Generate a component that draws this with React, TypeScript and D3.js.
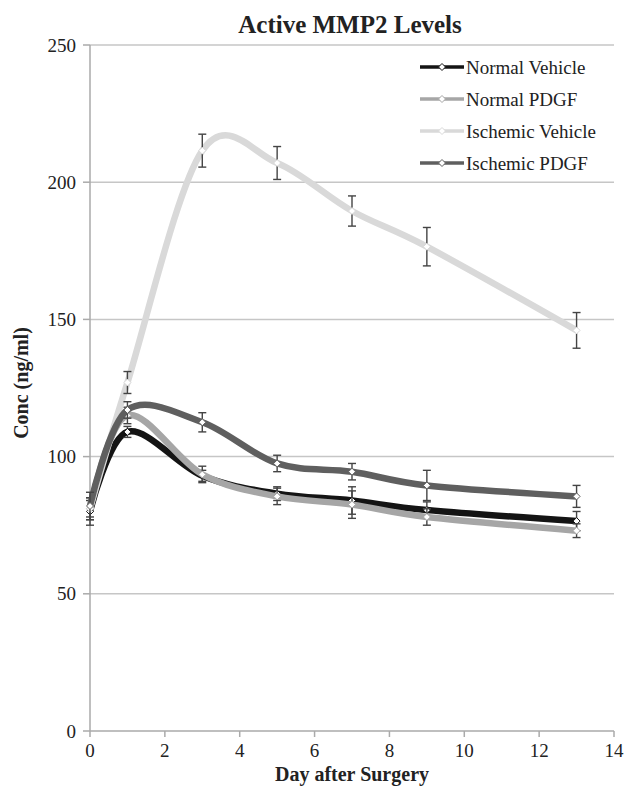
import * as d3 from "d3";

const days = [0, 1, 3, 5, 7, 9, 13];
const seriesNames = ["Normal Vehicle", "Normal PDGF", "Ischemic Vehicle", "Ischemic PDGF"];
const normalVehicle = [80, 109, 93, 86.5, 84, 80.5, 76.5];
const normalVehicleErr = [5, 2, 2, 2.5, 5, 3, 3.5];
const normalPdgf = [81, 115, 93.5, 85.5, 82.5, 78, 73];
const normalPdgfErr = [4, 3, 3, 3, 5, 3, 2.5];
const ischemicVehicle = [81, 127, 211.5, 207, 189.5, 176.5, 146];
const ischemicVehicleErr = [3, 4, 6, 6, 5.5, 7, 6.5];
const ischemicPdgf = [82, 117, 112.5, 97.5, 94.5, 89.5, 85.5];
const ischemicPdgfErr = [5, 3, 3.5, 3, 3, 5.5, 4];
const colors = ["#141414", "#a6a6a6", "#d9d9d9", "#5f5f5f"];
const xTicks = [0, 2, 4, 6, 8, 10, 12, 14];
const yTicks = [0, 50, 100, 150, 200, 250];

const W = 624,
  H = 788;
const m = { top: 45, right: 10, bottom: 57, left: 90 };
const font = "'Liberation Serif', serif";

export default function App() {
  const x = d3.scaleLinear().domain([0, 14]).range([m.left, W - m.right]);
  const y = d3.scaleLinear().domain([0, 250]).range([H - m.bottom, m.top]);
  const values = [normalVehicle, normalPdgf, ischemicVehicle, ischemicPdgf];
  const errs = [normalVehicleErr, normalPdgfErr, ischemicVehicleErr, ischemicPdgfErr];
  const line = d3
    .line<number>()
    .x((_, i) => x(days[i]))
    .y((d) => y(d))
    .curve(d3.curveCatmullRom.alpha(0));
  const diamond = (cx: number, cy: number, r: number) =>
    `M${cx},${cy - r}L${cx + r},${cy}L${cx},${cy + r}L${cx - r},${cy}Z`;

  return (
    <svg width={W} height={H} style={{ position: "absolute", left: 0, top: 0 }} fontFamily={font}>
      <rect width={W} height={H} fill="#fff" />
      <text x={350} y={33} textAnchor="middle" fontWeight="bold" fontSize={25} fill="#222">
        Active MMP2 Levels
      </text>
      {yTicks.map((t) => (
        <g key={t}>
          <line x1={m.left} x2={W - m.right} y1={y(t)} y2={y(t)} stroke={t === 0 ? "#aaa" : "#c6c6c6"} strokeWidth={1.5} />
          <line x1={m.left - 7} x2={m.left} y1={y(t)} y2={y(t)} stroke="#aaa" strokeWidth={1.5} />
          <text x={m.left - 14} y={y(t) + 6.5} textAnchor="end" fontSize={19} fill="#222">
            {t}
          </text>
        </g>
      ))}
      <line x1={m.left} x2={m.left} y1={m.top} y2={y(0)} stroke="#aaa" strokeWidth={1.5} />
      {xTicks.map((t) => (
        <g key={t}>
          <line x1={x(t)} x2={x(t)} y1={y(0)} y2={y(0) + 6} stroke="#aaa" strokeWidth={1.5} />
          <text x={x(t)} y={y(0) + 26} textAnchor="middle" fontSize={19} fill="#222">
            {t}
          </text>
        </g>
      ))}
      <text x={352} y={781} textAnchor="middle" fontWeight="bold" fontSize={20} fill="#222">
        Day after Surgery
      </text>
      <text transform={`translate(28,${383}) rotate(-90)`} textAnchor="middle" fontWeight="bold" fontSize={20} fill="#222">
        Conc (ng/ml)
      </text>
      {values.map((vals, s) => (
        <g key={s}>
          <path d={line(vals) ?? ""} fill="none" stroke={colors[s]} strokeWidth={6.5} strokeLinejoin="round" />
          {vals.map((v, i) => (
            <g key={i} stroke="#444" strokeWidth={1.4}>
              <line x1={x(days[i])} x2={x(days[i])} y1={y(v + errs[s][i])} y2={y(v - errs[s][i])} />
              <line x1={x(days[i]) - 4} x2={x(days[i]) + 4} y1={y(v + errs[s][i])} y2={y(v + errs[s][i])} />
              <line x1={x(days[i]) - 4} x2={x(days[i]) + 4} y1={y(v - errs[s][i])} y2={y(v - errs[s][i])} />
            </g>
          ))}
          {vals.map((v, i) => (
            <path key={"m" + i} d={diamond(x(days[i]), y(v), 3.5)} fill="#fff" stroke={colors[s]} strokeWidth={1} />
          ))}
        </g>
      ))}
      {seriesNames.map((name, s) => (
        <g key={name} transform={`translate(420,${67 + s * 32})`}>
          <line x1={0} x2={44} y1={0} y2={0} stroke={colors[s]} strokeWidth={3.5} />
          <path d={diamond(22, 0, 3.5)} fill="#fff" stroke={colors[s]} strokeWidth={1} />
          <text x={46} y={6.5} fontSize={19} fill="#222">
            {name}
          </text>
        </g>
      ))}
    </svg>
  );
}
